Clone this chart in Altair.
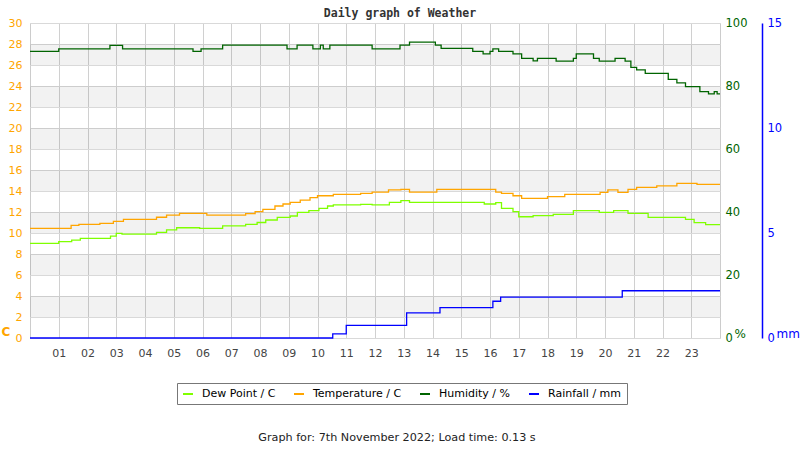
import altair as alt
import pandas as pd

# ---- data ----
hours_ticks = list(range(1, 24))
band_lo = [2, 6, 10, 14, 18, 22, 26]

dew_h = [0, 1.0, 1.45, 1.75, 2.8, 3.0, 3.2, 4.4, 4.75, 5.1, 5.9, 6.7, 7.5, 7.9, 8.2, 8.6, 9.05, 9.3, 9.7, 10.05,
         10.35, 10.55, 11.5, 11.9, 12.5, 12.9, 13.2, 15.8, 16.2, 16.4, 16.8, 17.0, 17.5, 18.2, 18.9, 19.8, 20.3,
         20.8, 21.5, 22.8, 23.1, 23.5, 24]
dew_v = [9.02, 9.17, 9.33, 9.49, 9.71, 9.97, 9.9, 10.06, 10.29, 10.5, 10.45, 10.67, 10.83, 11.0, 11.24, 11.49,
         11.62, 11.97, 12.13, 12.35, 12.57, 12.67, 12.73, 12.67, 12.92, 13.08, 12.92, 12.76, 12.9, 12.35, 12.03,
         11.55, 11.65, 11.78, 12.13, 11.97, 12.13, 11.87, 11.49, 11.3, 10.98, 10.8, 10.8]

temp_h = [0, 1.43, 1.7, 2.43, 2.9, 3.25, 4.4, 4.75, 5.2, 6.15, 7.5, 7.83, 8.1, 8.52, 8.8, 9.05, 9.4, 9.74, 10.0,
          10.55, 11.5, 11.9, 12.47, 12.9, 13.2, 14.15, 16.2, 16.4, 16.8, 17.1, 18.0, 18.6, 19.83, 20.1, 20.45,
          20.8, 21.1, 21.8, 22.5, 23.2, 24]
temp_v = [10.45, 10.73, 10.83, 10.92, 11.11, 11.3, 11.5, 11.71, 11.87, 11.71, 11.85, 12.03, 12.25, 12.57, 12.76,
          12.92, 13.14, 13.36, 13.55, 13.68, 13.78, 13.9, 14.1, 14.16, 13.9, 14.16, 13.9, 13.78, 13.55, 13.3,
          13.46, 13.68, 13.87, 14.1, 13.87, 14.16, 14.35, 14.48, 14.73, 14.63, 14.63]

hum_h = [0, 1.0, 2.78, 3.22, 5.67, 5.95, 6.7, 8.94, 9.29, 9.84, 10.1, 10.2, 10.43, 11.9, 12.87, 13.2, 14.1, 14.3,
         15.4, 15.76, 16.0, 16.1, 16.3, 16.8, 17.1, 17.5, 17.65, 18.3, 18.9, 19.0, 19.6, 19.8, 20.35, 20.7, 20.9,
         21.1, 21.4, 22.2, 22.5, 22.8, 23.3, 23.6, 23.8, 23.9, 24]
hum_v = [91.0, 91.8, 92.9, 91.8, 91.0, 91.8, 93.0, 91.8, 93.0, 91.8, 93.0, 91.8, 93.0, 91.8, 93.0, 93.9, 93.0,
         91.95, 91.0, 90.2, 91.0, 91.8, 91.0, 90.2, 88.8, 88.0, 88.8, 87.9, 88.8, 90.2, 88.8, 87.9, 88.8, 87.9,
         85.9, 85.1, 84.0, 82.1, 81.0, 79.8, 78.2, 77.5, 78.2, 77.5, 77.5]

rain_h = [0, 10.53, 11.0, 13.1, 14.26, 16.1, 16.37, 20.6, 24]
rain_v = [0, 0.2, 0.6, 1.2, 1.45, 1.75, 1.95, 2.25, 2.25]

names = ["Dew Point / C", "Temperature / C", "Humidity / %", "Rainfall / mm"]
colors = ["#7FFF00", "#FFA500", "#006400", "#0000FF"]

title_text = "Daily graph of Weather"
footer_text = "Graph for: 7th November 2022; Load time: 0.13 s"

W, H = 690, 315
FONT = "DejaVu Sans"


def frame(h, v, name):
    return pd.DataFrame({"hour": h, "value": v, "series": name})


x_enc = alt.X(
    "hour:Q",
    scale=alt.Scale(domain=[0, 24], nice=False, zero=False),
    axis=alt.Axis(values=hours_ticks, format="02d", title=None, grid=True, gridColor="#d0d0d0",
                  ticks=False, domain=False, labelPadding=9, labelFontSize=11, labelFont=FONT,
                  labelColor="#444444", labelOverlap=False, labelFlush=False),
)

color_enc = alt.Color(
    "series:N",
    scale=alt.Scale(domain=names, range=colors),
    legend=alt.Legend(orient="none", legendX=147, legendY=360, direction="horizontal", title=None,
                      strokeColor="#777777", padding=5, labelFontSize=11, labelFont=FONT,
                      labelColor="#000000", symbolType="stroke", symbolStrokeWidth=2, symbolSize=100,
                      columnPadding=14, labelOffset=8),
)

temp_scale = alt.Scale(domain=[0, 30], nice=False, zero=True)

bands = alt.Chart(pd.DataFrame({"lo": band_lo, "hi": [b + 2 for b in band_lo]})).mark_rect(
    color="black", opacity=0.05
).encode(
    x=alt.value(0), x2=alt.value(W),
    y=alt.Y("lo:Q", scale=temp_scale, axis=None), y2="hi:Q",
)

temp = alt.Chart(frame(temp_h, temp_v, names[1])).mark_line(interpolate="step-after", strokeWidth=1.3).encode(
    x=x_enc,
    y=alt.Y("value:Q", scale=temp_scale,
            axis=alt.Axis(values=list(range(0, 31, 2)), orient="left", grid=True, gridColor="#d9d9d9",
                          ticks=False, domain=False, labelColor="#FFA500", labelFontSize=11, labelFont=FONT,
                          labelPadding=8, labelOverlap=False, title="C", titleColor="#FFA500",
                          titleFontWeight="bold", titleFont=FONT, titleFontSize=12, titleAngle=0, titleX=-29,
                          titleY=308, titleAlign="left", titleBaseline="middle")),
    color=color_enc,
)

dew = alt.Chart(frame(dew_h, dew_v, names[0])).mark_line(interpolate="step-after", strokeWidth=1.3).encode(
    x=x_enc,
    y=alt.Y("value:Q", scale=temp_scale, axis=None),
    color=color_enc,
)

hum = alt.Chart(frame(hum_h, hum_v, names[2])).mark_line(interpolate="step-after", strokeWidth=1.3).encode(
    x=x_enc,
    y=alt.Y("value:Q", scale=alt.Scale(domain=[0, 100], nice=False),
            axis=alt.Axis(values=[0, 20, 40, 60, 80, 100], orient="right", grid=False, ticks=False,
                          domain=False, labelColor="#006400", labelFontSize=11.5, labelFont=FONT,
                          labelPadding=5, labelOverlap=False, title="%", titleColor="#006400",
                          titleFont=FONT, titleFontWeight="normal", titleFontSize=12, titleAngle=0, titleX=14,
                          titleY=310, titleAlign="left", titleBaseline="middle")),
    color=color_enc,
)

rain = alt.Chart(frame(rain_h, rain_v, names[3])).mark_line(interpolate="step-after", strokeWidth=1.3).encode(
    x=x_enc,
    y=alt.Y("value:Q", scale=alt.Scale(domain=[0, 15], nice=False),
            axis=alt.Axis(values=[0, 5, 10, 15], orient="right", offset=42, grid=False, ticks=False,
                          domain=True, domainColor="#0000FF", domainWidth=1.5, labelColor="#0000FF",
                          labelFontSize=11.5, labelFont=FONT, labelPadding=5, labelOverlap=False, title="mm",
                          titleColor="#0000FF", titleFont=FONT, titleFontWeight="normal", titleFontSize=12,
                          titleAngle=0, titleX=14, titleY=310, titleAlign="left", titleBaseline="middle")),
    color=color_enc,
)

footer = alt.Chart(pd.DataFrame({"t": [footer_text]})).mark_text(
    font=FONT, fontSize=11.2, color="#222222", align="center", baseline="middle"
).encode(text="t:N", x=alt.value(367), y=alt.value(415))

chart = alt.layer(bands, dew, temp, hum, rain, footer).resolve_scale(y="independent").properties(
    width=W, height=H,
    title=alt.TitleParams(title_text, font="DejaVu Sans Mono", fontWeight="bold", fontSize=11.5,
                          color="#333333", anchor="middle", dx=25, dy=7, offset=5),
    autosize=alt.AutoSizeParams(type="none"),
    padding={"left": 30, "top": 23, "right": 80, "bottom": 112},
    background="white",
).configure_view(stroke="#cccccc", strokeWidth=1)

chart.save("out.html", embed_options={"renderer": "svg", "actions": False})
